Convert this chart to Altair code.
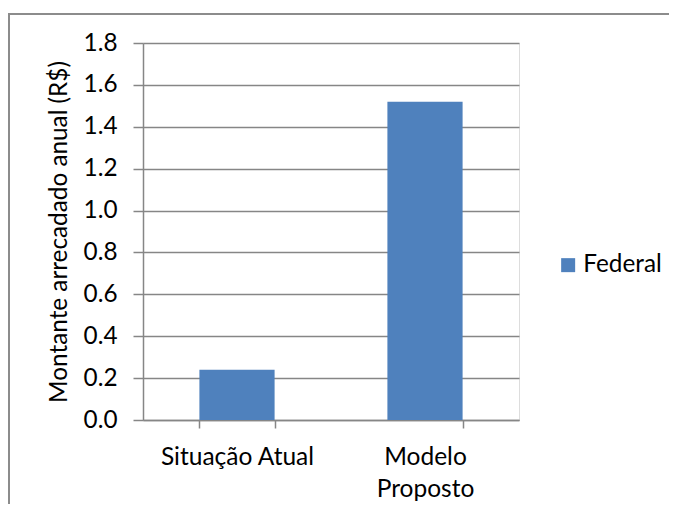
import altair as alt
import pandas as pd

categories = ["Situação Atual", "Modelo Proposto"]
values = [0.24, 1.52]
series = ["Federal", "Federal"]
y_ticks = [0.0, 0.2, 0.4, 0.6, 0.8, 1.0, 1.2, 1.4, 1.6, 1.8]

df = pd.DataFrame({"categoria": categories, "valor": values, "serie": series})

FONT = "Lato"
GRAY = "#868686"
FS = 24.3

bars = alt.Chart(df).mark_bar(color="#4F81BD").encode(
    x=alt.X(
        "categoria:N",
        sort=categories,
        scale=alt.Scale(paddingInner=0.6, paddingOuter=0.3),
        axis=alt.Axis(
            title=None,
            labelAngle=0,
            labelFont=FONT,
            labelFontSize=24.5,
            labelColor="#000000",
            labelPadding=17,
            labelLineHeight=32,
            labelBaseline="top",
            labelExpr="datum.value == 'Modelo Proposto' ? ['Modelo', 'Proposto'] : datum.label",
            tickBand="extent",
            tickSize=8,
            tickColor=GRAY,
            tickWidth=1.5,
            domainColor=GRAY,
            domainWidth=1.5,
            grid=False,
        ),
    ),
    y=alt.Y(
        "valor:Q",
        scale=alt.Scale(domain=[0, 1.8], nice=False),
        axis=alt.Axis(
            title="Montante arrecadado anual (R$)",
            titleFont=FONT,
            titleFontSize=FS,
            titleFontWeight="normal",
            titleColor="#000000",
            titlePadding=12,
            values=y_ticks,
            format=".1f",
            labelFont=FONT,
            labelFontSize=FS,
            labelColor="#000000",
            labelPadding=16,
            tickSize=10,
            tickColor=GRAY,
            tickWidth=1.5,
            domainColor=GRAY,
            domainWidth=1.5,
            grid=True,
            gridColor=GRAY,
            gridWidth=1.5,
        ),
    ),
    fill=alt.Fill(
        "serie:N",
        scale=alt.Scale(domain=["Federal"], range=["#4F81BD"]),
        legend=alt.Legend(
            title=None,
            orient="none",
            legendX=413,
            legendY=210,
            symbolType="square",
            symbolSize=196,
            symbolStrokeWidth=0,
            labelFont=FONT,
            labelFontSize=FS,
            labelColor="#000000",
            labelOffset=3,
        ),
    ),
)

border = alt.Chart(df).mark_rect(
    fill=None, stroke="#8c8c8c", strokeWidth=2
).encode(
    x=alt.value(-134), x2=alt.value(560), y=alt.value(-29), y2=alt.value(490)
)

chart = alt.layer(border, bars).properties(
    width=376,
    height=377,
    autosize=alt.AutoSizeParams(type="none"),
    padding={"left": 135, "top": 35, "right": 150, "bottom": 84},
).configure_view(stroke=None).configure(background="white")

chart.save("out.html", embed_options={"renderer": "svg", "actions": False})
